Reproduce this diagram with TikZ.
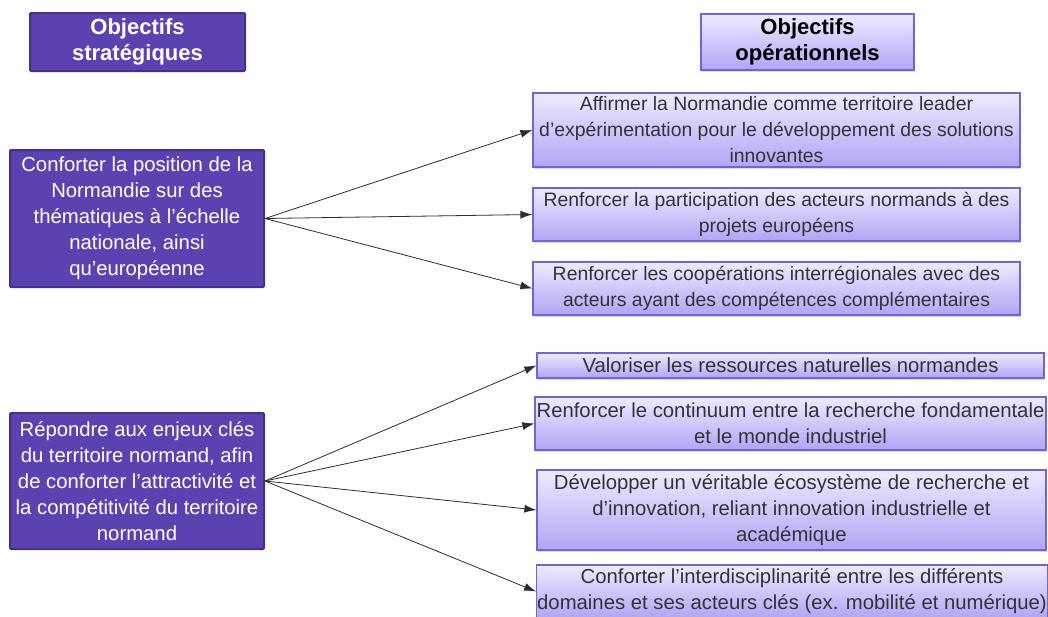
\documentclass[tikz,border=0pt]{standalone}
\usepackage{fontspec}
\setmainfont{Liberation Sans}
\usetikzlibrary{arrows.meta,shadows}

\definecolor{stratfill}{RGB}{92,66,176}
\definecolor{stratline}{RGB}{68,48,135}
\definecolor{opertop}{RGB}{238,235,255}
\definecolor{operbot}{RGB}{178,164,245}
\definecolor{operline}{RGB}{120,96,214}
\definecolor{arrowcol}{RGB}{45,45,45}

\begin{document}
\begin{tikzpicture}[x=1pt, y=-1pt,
  strat/.style={rectangle, draw=stratline, line width=2pt, fill=stratfill,
    text=white, align=center, inner sep=0.5pt, rounded corners=1pt,
    font=\fontsize{20.3}{26}\selectfont},
  oper/.style={rectangle, draw=operline, line width=1.2pt,
    top color=opertop, bottom color=operbot, text=black!80,
    align=center, inner sep=0.5pt,
    drop shadow={opacity=0.3, shadow xshift=1pt, shadow yshift=-2pt},
    font=\fontsize{20.3}{26}\selectfont},
  opersmall/.style={oper, font=\fontsize{19.4}{26}\selectfont},
  link/.style={draw=arrowcol, line width=0.8pt, -{Latex[length=12pt, width=8pt]}}]

\fill[white] (0,0) rectangle (1048,616);
\useasboundingbox (0,0) rectangle (1048,616);

% column headers
\node[strat, minimum width=215pt, minimum height=58pt,
  font=\bfseries\fontsize{22}{26}\selectfont] (hdrstrat) at (137.5,42) {Objectifs\\strat\'egiques};
\node[oper, minimum width=213pt, minimum height=56pt, text=black,
  font=\bfseries\fontsize{22}{26}\selectfont] (hdroper) at (807.5,42) {Objectifs\\op\'erationnels};

% strategic objectives
\node[strat, minimum width=254pt, minimum height=137pt] (strat1) at (137,218.5)
  {Conforter la position de la\\Normandie sur des\\th\'ematiques \`a l’\'echelle\\nationale, ainsi\\qu’europ\'eenne};
\node[strat, minimum width=254pt, minimum height=136pt] (strat2) at (137,481)
  {R\'epondre aux enjeux cl\'es\\du territoire normand, afin\\de conforter l’attractivit\'e et\\la comp\'etitivit\'e du territoire\\normand};

% operational objectives
\node[opersmall, minimum width=487pt, minimum height=74pt] (oper1) at (776.5,130)
  {Affirmer la Normandie comme territoire leader\\d’exp\'erimentation pour le d\'eveloppement des solutions\\innovantes};
\node[opersmall, minimum width=487pt, minimum height=53pt] (oper2) at (776.5,214.5)
  {Renforcer la participation des acteurs normands \`a des\\projets europ\'eens};
\node[opersmall, minimum width=487pt, minimum height=53pt] (oper3) at (776.5,288.5)
  {Renforcer les coop\'erations interr\'egionales avec des\\acteurs ayant des comp\'etences compl\'ementaires};
\node[oper, minimum width=507pt, minimum height=25pt] (oper4) at (790.5,365.5)
  {Valoriser les ressources naturelles normandes};
\node[oper, minimum width=511pt, minimum height=53pt] (oper5) at (790.5,423.5)
  {Renforcer le continuum entre la recherche fondamentale\\et le monde industriel};
\node[oper, minimum width=509pt, minimum height=80pt] (oper6) at (791.5,510)
  {D\'evelopper un v\'eritable \'ecosyst\`eme de recherche et\\d’innovation, reliant innovation industrielle et\\acad\'emique};
\node[oper, minimum width=510pt, minimum height=53pt] (oper7) at (792,591.5)
  {Conforter l’interdisciplinarit\'e entre les diff\'erents\\domaines et ses acteurs cl\'es (ex. mobilit\'e et num\'erique)};

% links
\foreach \t in {oper1,oper2,oper3}
  \draw[link] (strat1.east) -- (\t.west);
\foreach \t in {oper4,oper5,oper6,oper7}
  \draw[link] (strat2.east) -- (\t.west);

\end{tikzpicture}
\end{document}
